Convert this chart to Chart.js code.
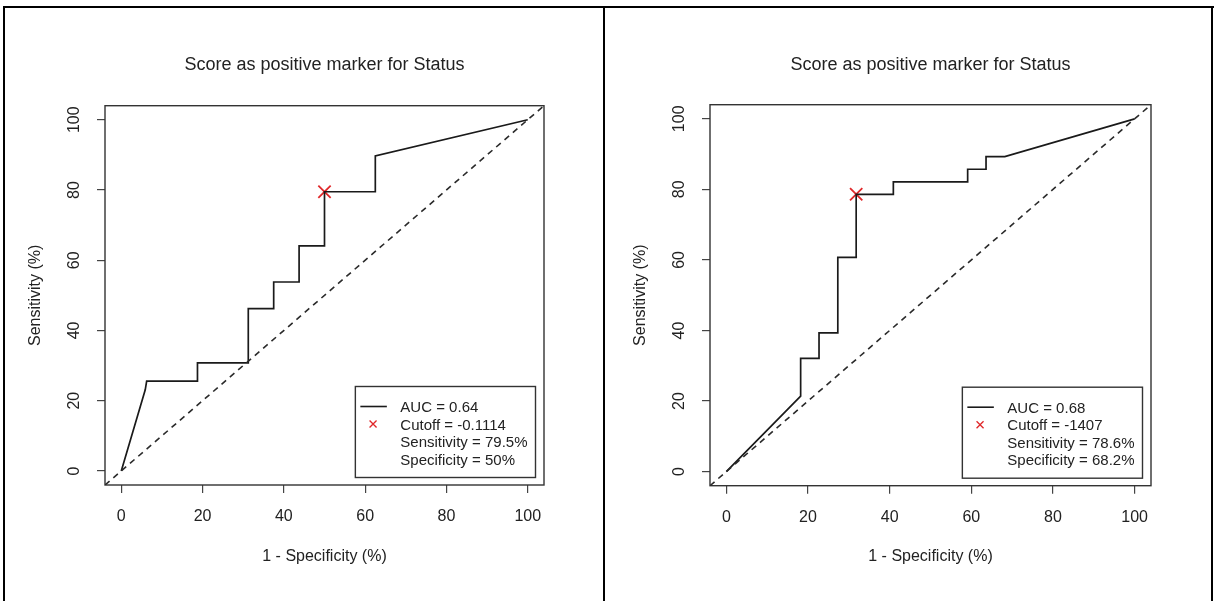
<!DOCTYPE html>
<html>
<head>
<meta charset="utf-8">
<script src="https://cdn.jsdelivr.net/npm/chart.js@4.4.0/dist/chart.umd.min.js"></script>
<style>
    html, body { margin: 0; padding: 0; background: #fff; }
    body { width: 1214px; height: 601px; position: relative; overflow: hidden; }
    .rule { position: absolute; background: #000; }
    .cell { position: absolute; top: 8px; height: 593px; }
    #cellLeft { left: 5px; width: 598px; }
    #cellRight { left: 605px; width: 606px; }
</style>
</head>
<body>
<div class="rule" style="left:3px; top:6px; width:1211px; height:2px"></div>
<div class="rule" style="left:3px; top:6px; width:2px; height:595px"></div>
<div class="rule" style="left:603px; top:6px; width:2px; height:595px"></div>
<div class="rule" style="left:1211px; top:6px; width:2px; height:595px"></div>
<div class="cell" id="cellLeft"><canvas id="rocLeft" width="598" height="593"></canvas></div>
<div class="cell" id="cellRight"><canvas id="rocRight" width="606" height="593"></canvas></div>

<script>
// Shared axis setup (both panels use the R default 4% padding around 0..100)
const tickValues = [0, 20, 40, 60, 80, 100];
const axisMin = -4;
const axisMax = 104;
const diagonal = [-4, 104];

// Left panel: ROC curve (1 - specificity vs sensitivity, %)
const leftFpr = [0, 5.9, 6.25, 18.75, 18.75, 31.25, 31.25, 37.5, 37.5, 43.75, 43.75, 50, 50, 62.5, 62.5, 100];
const leftTpr = [0, 23.1, 25.6, 25.6, 30.8, 30.8, 46.2, 46.2, 53.8, 53.8, 64.1, 64.1, 79.5, 79.5, 89.7, 100];
const leftCutoff = [50, 79.5];
const leftLegend = ['AUC = 0.64', 'Cutoff = -0.1114', 'Sensitivity = 79.5%', 'Specificity = 50%'];

// Right panel
const rightFpr = [0, 18.2, 18.2, 22.7, 22.7, 27.3, 27.3, 31.8, 31.8, 40.9, 40.9, 59.1, 59.1, 63.6, 63.6, 68.2, 100];
const rightTpr = [0, 21.4, 32.1, 32.1, 39.3, 39.3, 60.7, 60.7, 78.6, 78.6, 82.1, 82.1, 85.7, 85.7, 89.3, 89.3, 100];
const rightCutoff = [31.8, 78.6];
const rightLegend = ['AUC = 0.68', 'Cutoff = -1407', 'Sensitivity = 78.6%', 'Specificity = 68.2%'];

const titleText = 'Score as positive marker for Status';
const FONT = '"Liberation Sans", Arial, Helvetica, sans-serif';
const INK = '#222';
const RED = '#e0282a';

Chart.defaults.font.family = FONT;
Chart.defaults.color = INK;


// Draws the R style box around the plotting region
const frameBox = {
    id: 'frameBox',
    beforeDatasetsDraw(chart) {
        const { ctx, chartArea } = chart;
        ctx.save();
        ctx.strokeStyle = '#333';
        ctx.lineWidth = 1.4;
        ctx.strokeRect(chartArea.left, chartArea.top, chartArea.right - chartArea.left, chartArea.bottom - chartArea.top);
        ctx.restore();
    }
};


// Bottom-right legend box, like legend('bottomright', ...) in R
const legendBox = {
    id: 'legendBox',
    afterDatasetsDraw(chart, args, opts) {
        const { ctx, chartArea } = chart;
        ctx.save();
        ctx.font = '15px ' + FONT;
        const textW = Math.max(...opts.lines.map(t => ctx.measureText(t).width));
        const w = 45 + textW + 8;
        const h = 91;
        const left = chartArea.right - 8.5 - w;
        const top = chartArea.bottom - 7.5 - h;

        ctx.fillStyle = '#fff';
        ctx.fillRect(left, top, w, h);
        ctx.strokeStyle = '#333';
        ctx.lineWidth = 1.4;
        ctx.strokeRect(left, top, w, h);

        // line sample
        ctx.strokeStyle = '#1a1a1a';
        ctx.lineWidth = 1.6;
        ctx.beginPath();
        ctx.moveTo(left + 5, top + 20);
        ctx.lineTo(left + 31.5, top + 20);
        ctx.stroke();

        // small red cross
        const cx = left + 17.7, cy = top + 37.5, r = 3.5;
        ctx.strokeStyle = RED;
        ctx.lineWidth = 1.3;
        ctx.beginPath();
        ctx.moveTo(cx - r, cy - r); ctx.lineTo(cx + r, cy + r);
        ctx.moveTo(cx - r, cy + r); ctx.lineTo(cx + r, cy - r);
        ctx.stroke();

        ctx.fillStyle = INK;
        ctx.textAlign = 'left';
        ctx.textBaseline = 'middle';
        opts.lines.forEach((t, i) => ctx.fillText(t, left + 45, top + 21.4 + i * 17.5));
        ctx.restore();
    }
};


function axisConfig(isX, size) {
    return {
        type: 'linear',
        min: axisMin,
        max: axisMax,
        afterBuildTicks: s => { s.ticks = tickValues.map(v => ({ value: v })); },
        afterFit: s => { if (isX) { s.height = size; } else { s.width = size; } },
        grid: { drawOnChartArea: false, drawTicks: true, tickLength: 8, color: '#444', lineWidth: 1.2 },
        border: { display: false },
        ticks: isX
            ? { padding: 14, font: { size: 16 } }
            : { padding: 9, minRotation: 90, maxRotation: 90, crossAlign: 'center', font: { size: 16 } },
        title: {
            display: true,
            text: isX ? '1 - Specificity (%)' : 'Sensitivity (%)',
            font: { size: 16 },
            padding: isX ? { top: 0, bottom: 35 } : { top: 21, bottom: 0 }
        }
    };
}


function buildRocChart(canvasId, fpr, tpr, cutoff, legendLines, box) {
    const rocPoints = fpr.map((x, i) => ({ x: x, y: tpr[i] }));
    const diagPoints = diagonal.map(v => ({ x: v, y: v }));

    const config = {
        type: 'scatter',
        data: {
            datasets: [
                {
                    data: diagPoints,
                    showLine: true,
                    borderColor: '#2a2a2a',
                    borderWidth: 1.6,
                    borderDash: [6, 5],
                    pointRadius: 0
                },
                {
                    data: rocPoints,
                    showLine: true,
                    borderColor: '#1a1a1a',
                    borderWidth: 1.7,
                    pointRadius: 0
                },
                {
                    data: [{ x: cutoff[0], y: cutoff[1] }],
                    showLine: false,
                    pointStyle: 'crossRot',
                    pointRadius: 8.7,
                    pointBorderWidth: 1.8,
                    borderColor: RED,
                    pointBorderColor: RED,
                    clip: false
                }
            ]
        },
        options: {
            responsive: false,
            animation: false,
            layout: { padding: { left: box.padLeft, right: box.padRight, top: 0, bottom: 0 } },
            scales: {
                x: axisConfig(true, box.xAxisHeight),
                y: axisConfig(false, 100)
            },
            plugins: {
                legend: { display: false },
                tooltip: { enabled: false },
                title: {
                    display: true,
                    text: titleText,
                    fullSize: false,
                    color: INK,
                    font: { size: 18, weight: 'normal' },
                    padding: { top: 46.2, bottom: box.titlePadBottom }
                },
                legendBox: { lines: legendLines }
            }
        },
        plugins: [frameBox, legendBox]
    };

    new Chart(document.getElementById(canvasId).getContext('2d'), config);
}


buildRocChart('rocLeft', leftFpr, leftTpr, leftCutoff, leftLegend,
    { padLeft: 0, padRight: 59, xAxisHeight: 116, titlePadBottom: 29.9 });
buildRocChart('rocRight', rightFpr, rightTpr, rightCutoff, rightLegend,
    { padLeft: 5, padRight: 60, xAxisHeight: 115.3, titlePadBottom: 28.9 });
</script>
</body>
</html>
